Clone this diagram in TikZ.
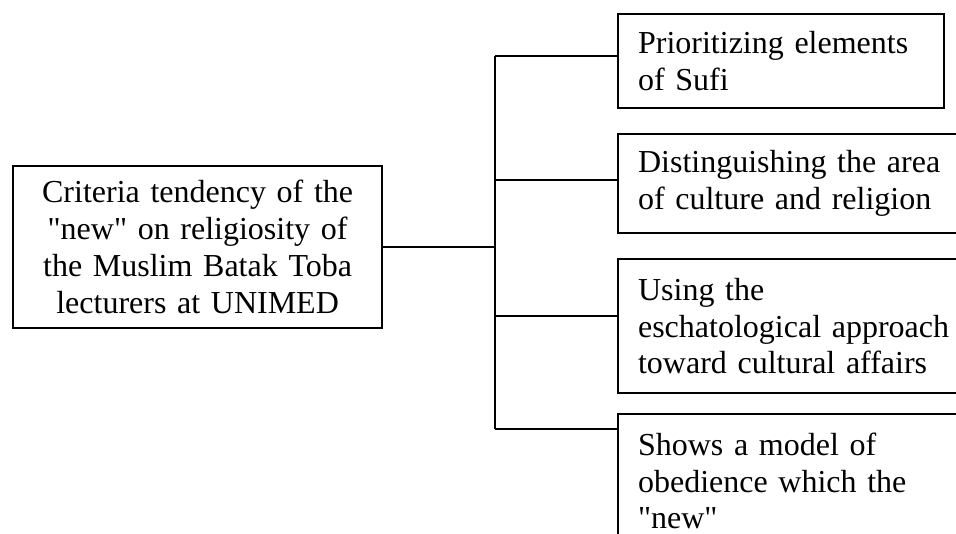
\documentclass[tikz,border=0pt]{standalone}
\usepackage{fontspec}
\setmainfont{Liberation Serif}
\usetikzlibrary{positioning}
\newcommand{\qq}[1]{\textquotedbl#1\textquotedbl}
\tikzset{
  crit/.style={draw, line width=0.8pt, anchor=north west, inner xsep=7.5pt, inner ysep=0pt,
    align=left, font=\fontsize{12}{13.8}\selectfont},
  wire/.style={line width=0.8pt}
}

\begin{document}
\begin{tikzpicture}[x=0.375pt, y=-0.375pt]
			%%%%% START %%%%%
			
			\useasboundingbox (0, 0) rectangle (956, 534);
			\clip (0, 0) rectangle (956, 534);
			
			\node[crit, align=center, text width=123.4pt, minimum width=138.4pt, minimum height=60.75pt] (main) at (12, 165)
				{Criteria tendency of the\\ \qq{new} on religiosity of\\ the Muslim Batak Toba\\ lecturers at UNIMED};
			
			\node[crit, text width=107.25pt, minimum width=122.25pt, minimum height=35.25pt] (sufi) at (617, 13)
				{Prioritizing elements\\ of Sufi};
			\node[crit, text width=125pt, minimum width=140pt, minimum height=37.1pt] (area) at (617, 133)
				{Distinguishing the area\\ of culture and religion};
			\node[crit, text width=125pt, minimum width=140pt, minimum height=50.25pt] (escha) at (617, 258)
				{Using the\\ eschatological approach\\ toward cultural affairs};
			\node[crit, text width=125pt, minimum width=140pt, minimum height=50.25pt] (obey) at (617, 413)
				{Shows a model of\\ obedience which the\\ \qq{new}};
			
			\coordinate (hub) at (495, 247);
			\coordinate (t1) at (495, 56);
			\coordinate (t2) at (495, 180);
			\coordinate (t3) at (495, 316);
			\coordinate (t4) at (495, 429);
			
			\draw[wire] (main.east |- hub) -- (hub);
			\draw[wire] (t1) -- (t4);
			\draw[wire] (t1) -- (t1 -| sufi.west);
			\draw[wire] (t2) -- (t2 -| area.west);
			\draw[wire] (t3) -- (t3 -| escha.west);
			\draw[wire] (t4) -- (t4 -| obey.west);
			
			%%%%% END %%%%%
		\end{tikzpicture}
\end{document}
